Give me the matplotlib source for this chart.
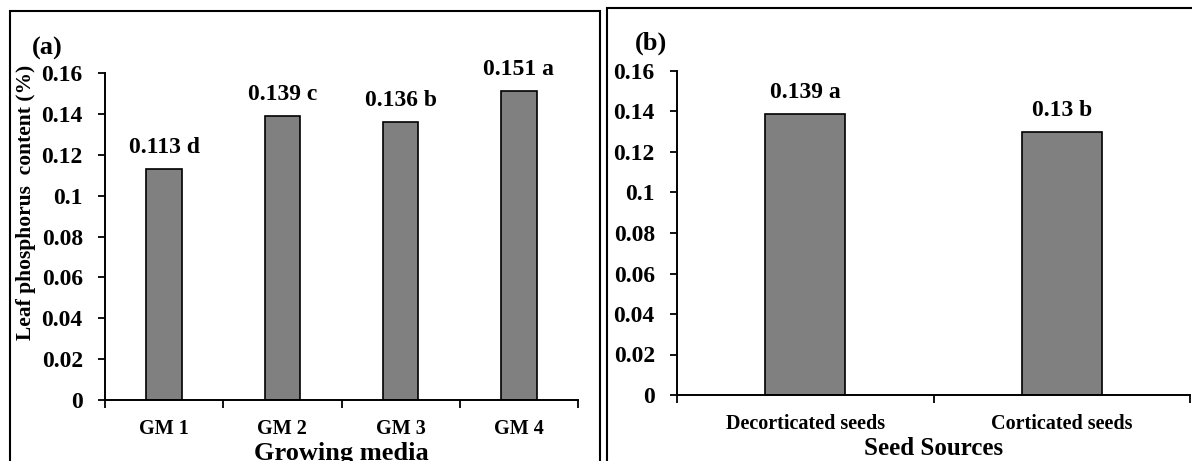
"""
leaf phosphorus content - growing media and seed sources
"""
import matplotlib
matplotlib.use("Agg")
import matplotlib.pyplot as plt
from matplotlib.patches import Rectangle
from matplotlib.ticker import FuncFormatter

plt.rcParams['font.family'] = ['Liberation Serif', 'DejaVu Serif']
plt.rcParams['font.weight'] = 'bold'

media = ["GM 1", "GM 2", "GM 3", "GM 4"]
media_vals = [0.113, 0.139, 0.136, 0.151]
media_letters = ["d", "c", "b", "a"]

seeds = ["Decorticated seeds", "Corticated seeds"]
seed_vals = [0.139, 0.13]
seed_letters = ["a", "b"]

yticks = [0, 0.02, 0.04, 0.06, 0.08, 0.1, 0.12, 0.14, 0.16]

W, H = 1192, 461


def px_axes(fig, left, top, right, bottom):
    return fig.add_axes([left / W, 1 - bottom / H, (right - left) / W, (bottom - top) / H])


def bar_panel(ax, cats, vals, letters, xlabel, width):
    x = range(len(cats))
    ax.bar(x, vals, width=width, color="#808080", edgecolor="black", linewidth=1.2)
    for xi, v, l in zip(x, vals, letters):
        ax.annotate("%g %s" % (v, l), (xi, v), xytext=(0, 11.5), textcoords="offset points",
                    ha="center", va="baseline", fontsize=17, fontweight="bold")
    ax.set_xlim(-0.5, len(cats) - 0.5)
    ax.set_ylim(0, 0.16)
    ax.set_yticks(yticks)
    ax.yaxis.set_major_formatter(FuncFormatter(lambda v, p: "%g" % v))
    ax.set_xticks(list(x))
    ax.set_xticklabels(cats, fontsize=14.5, fontweight="bold")
    ax.set_xticks([i - 0.5 for i in range(len(cats) + 1)], minor=True)
    ax.tick_params(axis="x", which="major", length=0, pad=14)
    ax.tick_params(axis="x", which="minor", length=6, width=1.3, direction="out")
    ax.tick_params(axis="y", length=5, width=1.3, pad=11, labelsize=17)
    for s in ["top", "right"]:
        ax.spines[s].set_visible(False)
    for s in ["left", "bottom"]:
        ax.spines[s].set_linewidth(1.4)
    ax.set_xlabel(xlabel, fontsize=19, fontweight="bold")


fig = plt.figure(figsize=(W / 100, H / 100), dpi=100)

ax1 = px_axes(fig, 105, 73, 578, 400)
bar_panel(ax1, media, media_vals, media_letters, "Growing media", 0.30)
ax1.xaxis.set_label_coords(0.5, -0.127)

ax2 = px_axes(fig, 677, 71, 1190, 395)
bar_panel(ax2, seeds, seed_vals, seed_letters, "Seed Sources", 0.31)
ax2.xaxis.set_label_coords(0.5, -0.13)
ax2.xaxis.label.set_fontsize(18)

fig.text(26 / W, 1 - 202 / H, "Leaf phosphorus  content (%)", rotation=90,
         ha="center", va="center", fontsize=15.5, fontweight="bold")
fig.text(32 / W, 1 - 55 / H, "(a)", ha="left", va="baseline", fontsize=19, fontweight="bold")
fig.text(635 / W, 1 - 50 / H, "(b)", ha="left", va="baseline", fontsize=19, fontweight="bold")

# panel frames
fig.patches.append(Rectangle((10 / W, -0.1), 590 / W, 1.1 - 11 / H, transform=fig.transFigure,
                             fill=False, edgecolor="black", linewidth=1.5))
fig.patches.append(Rectangle((607 / W, -0.1), 600 / W, 1.1 - 8 / H, transform=fig.transFigure,
                             fill=False, edgecolor="black", linewidth=1.5))

fig.savefig("out.png", dpi=100)
